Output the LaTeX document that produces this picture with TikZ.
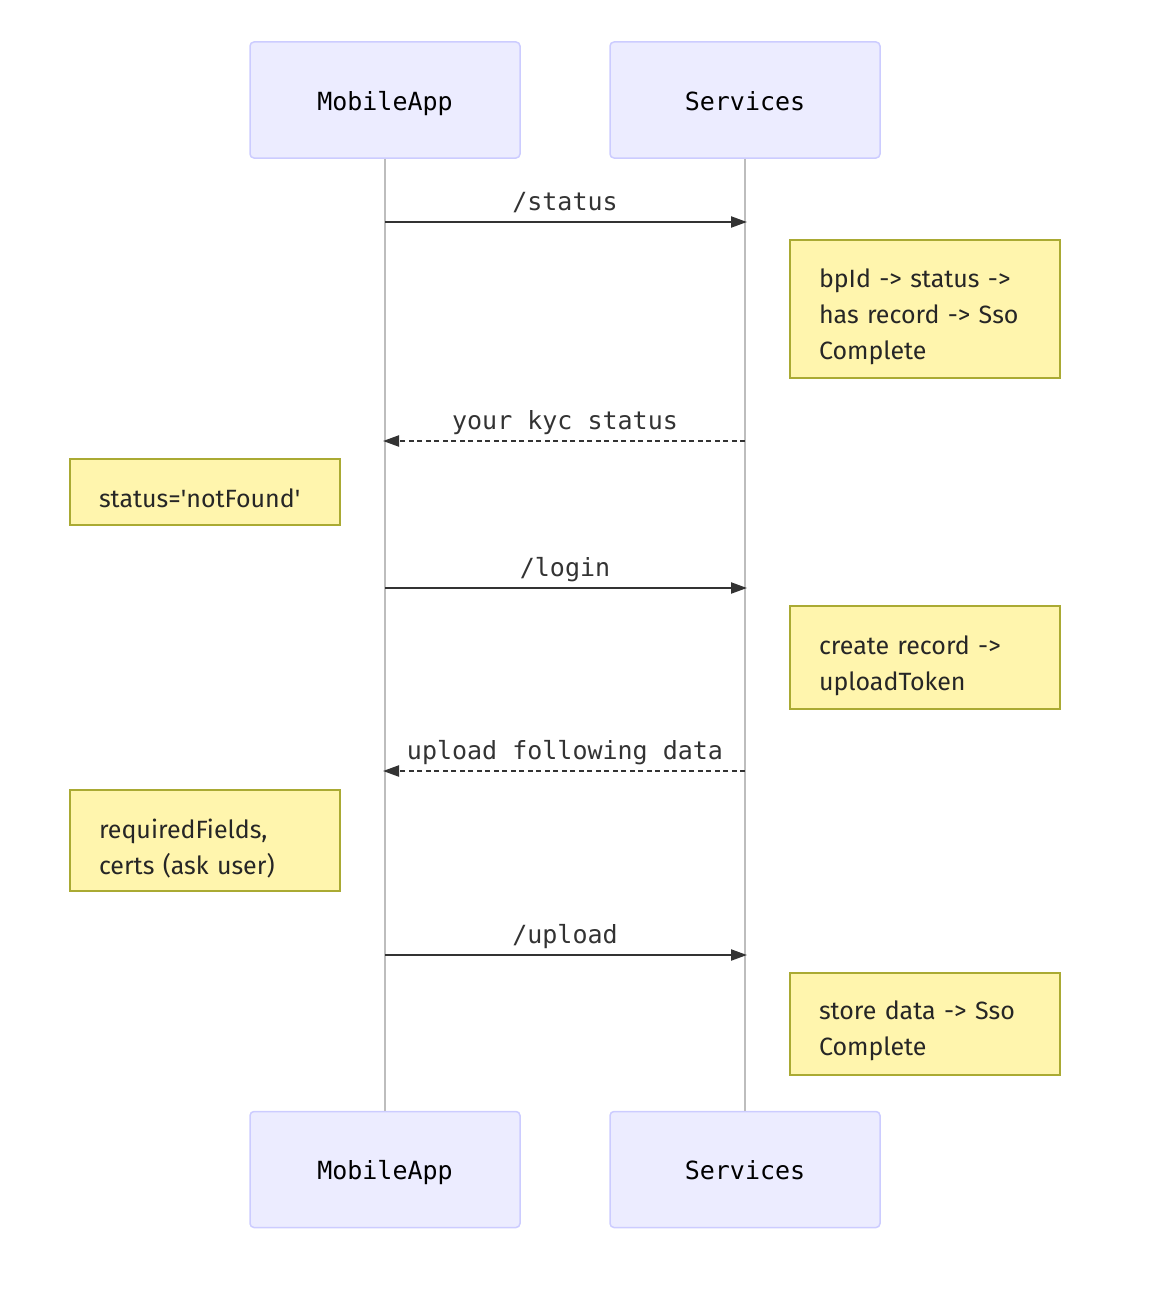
\documentclass[tikz,border=0pt]{standalone}
\usepackage{fontspec}
\setmainfont{Fira Sans}
\setmonofont{DejaVu Sans Mono}
\usetikzlibrary{arrows.meta,calc}
\definecolor{actfill}{HTML}{ECECFF}
\definecolor{actline}{HTML}{CCCCFF}
\definecolor{notefill}{HTML}{FFF5AD}
\definecolor{noteline}{HTML}{AAAA33}
\definecolor{msgcol}{HTML}{333333}
\definecolor{lifecol}{HTML}{BDBDBD}
\tikzset{
  actor/.style={draw=actline, fill=actfill, line width=1.5pt, rounded corners=4pt,
    minimum width=270pt, minimum height=116pt, inner sep=0pt, text height=20pt, text depth=0pt,
    font=\ttfamily\fontsize{25}{30}\selectfont, text=black},
  notebox/.style={draw=noteline, fill=notefill, line width=1.5pt,
    minimum width=270pt, inner sep=0pt},
  notetext/.style={inner xsep=0pt, inner ysep=0pt, text width=212pt, align=left,
    font=\fontsize{25}{36}\selectfont, text=black!85},
  lifeline/.style={draw=lifecol, line width=1.5pt},
  msg/.style={draw=msgcol, line width=2.2pt, -{Triangle[length=16pt,width=11pt]}},
  reply/.style={msg, dash pattern=on 5pt off 3.5pt},
  msglabel/.style={anchor=base, font=\ttfamily\fontsize{25}{30}\selectfont, text=msgcol, inner sep=0pt}
}
\begin{document}
\begin{tikzpicture}[x=1pt,y=-1pt]
\useasboundingbox (0,0) rectangle (1164,1298);
% actors
\node[actor] (mt) at (385,100) {MobileApp};
\node[actor] (st) at (745,100) {Services};
\node[actor] (mb) at (385,1169.5) {MobileApp};
\node[actor] (sb) at (745,1169.5) {Services};
% lifelines
\draw[lifeline] (mt.south) -- (mb.north);
\draw[lifeline] (st.south) -- (sb.north);
% message coordinates
\coordinate (a1) at (385,222); \coordinate (b1) at (747,222);
\coordinate (a2) at (383,441); \coordinate (b2) at (745,441);
\coordinate (a3) at (385,588); \coordinate (b3) at (747,588);
\coordinate (a4) at (383,771); \coordinate (b4) at (745,771);
\coordinate (a5) at (385,955); \coordinate (b5) at (747,955);
% messages
\draw[msg] (a1) -- (b1);
\node[msglabel] (l1) at (565,210) {/status};
\draw[reply] (b2) -- (a2);
\node[msglabel] (l2) at (565,429) {your kyc status};
\draw[msg] (a3) -- (b3);
\node[msglabel] (l3) at (565,576) {/login};
\draw[reply] (b4) -- (a4);
\node[msglabel] (l4) at (565,759) {upload following data};
\draw[msg] (a5) -- (b5);
\node[msglabel] (l5) at (565,943) {/upload};
% notes
\node[notebox, minimum height=138pt] (n1) at (925,309) {};
\node[notetext, yshift=-8pt] (n1t) at (n1.center) {bpId -> status ->\\has record -> Sso\\Complete};
\node[notebox, minimum height=66pt] (n2) at (205,492) {};
\node[notetext, yshift=-6pt] (n2t) at (n2.center) {status=\textquotesingle notFound\textquotesingle};
\node[notebox, minimum height=103pt] (n3) at (925,657.5) {};
\node[notetext, yshift=-8pt] (n3t) at (n3.center) {create record ->\\uploadToken};
\node[notebox, minimum height=101pt] (n4) at (205,840.5) {};
\node[notetext, yshift=-8pt] (n4t) at (n4.center) {requiredFields,\\certs (ask user)};
\node[notebox, minimum height=102pt] (n5) at (925,1024) {};
\node[notetext, yshift=-7pt] (n5t) at (n5.center) {store data -> Sso\\Complete};
\end{tikzpicture}
\end{document}
